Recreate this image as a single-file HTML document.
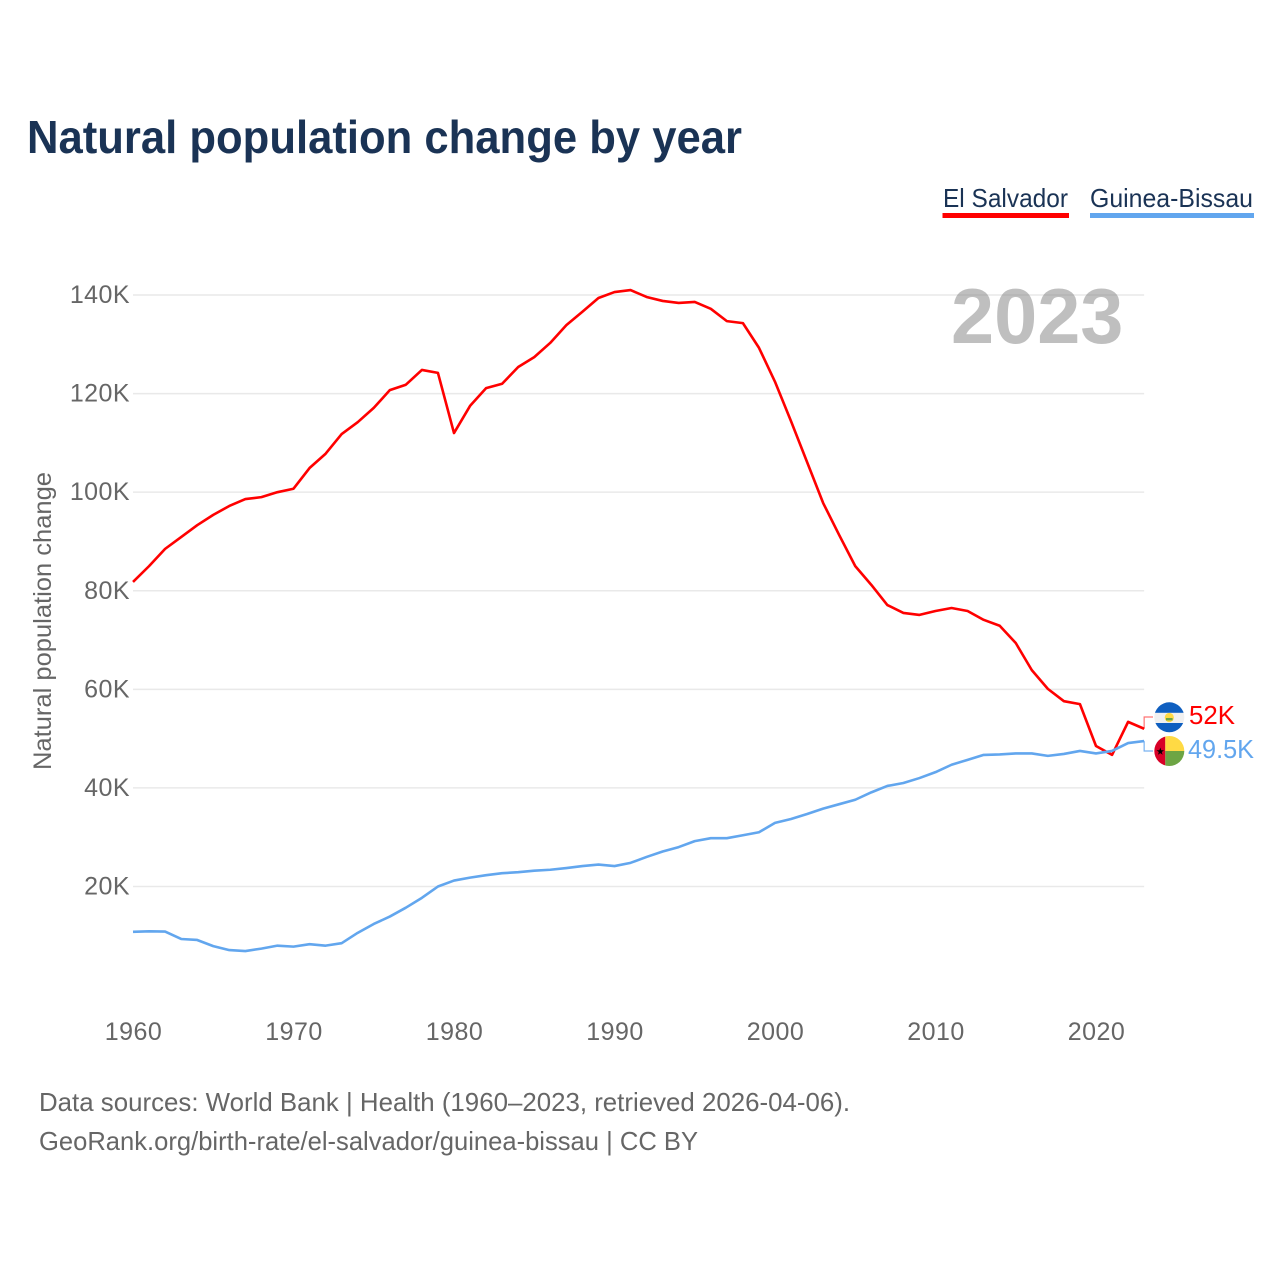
<!DOCTYPE html>
<html lang="en">
<head>
<meta charset="utf-8">
<title>Natural population change by year</title>
<style>
  html, body { margin: 0; padding: 0; background: #fff; }
  svg { display: block; font-family: "Liberation Sans", sans-serif; }
  .tick { font-size: 25px; fill: #666; letter-spacing: .45px; }
  .foot { font-size: 26px; fill: #666; }
  .legend { font-size: 26px; fill: #1a3355; }
</style>
</head>
<body>
<svg id="chart" width="1280" height="1280" viewBox="0 0 1280 1280" xmlns="http://www.w3.org/2000/svg">
  <defs>
    <clipPath id="clip-sv"><circle cx="1169.3" cy="717.3" r="15"/></clipPath>
    <clipPath id="clip-gw"><circle cx="1169.3" cy="751" r="15"/></clipPath>
  </defs>
  <rect width="1280" height="1280" fill="#fff"/>

  <text x="27" y="153" font-size="46" font-weight="700" fill="#1a3355" textLength="715" lengthAdjust="spacingAndGlyphs">Natural population change by year</text>

  <g>
    <text class="legend" x="943" y="207" textLength="125" lengthAdjust="spacingAndGlyphs">El Salvador</text>
    <rect x="942.5" y="213" width="126.5" height="5" fill="#ff0000"/>
  </g>
  <g>
    <text class="legend" x="1090" y="207" textLength="163" lengthAdjust="spacingAndGlyphs">Guinea-Bissau</text>
    <rect x="1090" y="213" width="164" height="5" fill="#62a6ee"/>
  </g>

  <g id="grid"></g>
  <g id="y-ticks"></g>
  <g id="x-ticks"></g>

  <text transform="translate(51,621) rotate(-90)" text-anchor="middle" font-size="25" fill="#666" textLength="298" lengthAdjust="spacingAndGlyphs">Natural population change</text>

  <text x="951" y="343" font-size="77.5" font-weight="700" fill="#808080" fill-opacity=".5">2023</text>

  <g id="series"></g>

  <g clip-path="url(#clip-sv)">
    <rect x="1154" y="702" width="31" height="31" fill="#f0f0f0"/>
    <rect x="1154" y="702" width="31" height="10.8" fill="#0f5fc0"/>
    <rect x="1154" y="723" width="31" height="10.5" fill="#0f5fc0"/>
    <circle cx="1169.3" cy="717.5" r="4.6" fill="#ffda44"/>
    <rect x="1166" y="718" width="6.6" height="2.4" fill="#6da544"/>
  </g>
  <g clip-path="url(#clip-gw)">
    <rect x="1154" y="736" width="11.3" height="31" fill="#d80027"/>
    <rect x="1165.3" y="736" width="20" height="15" fill="#ffda44"/>
    <rect x="1165.3" y="751" width="20" height="16" fill="#6da544"/>
    <polygon points="1160.3,747.5 1161.2,750.2 1164.1,750.3 1161.8,752 1162.6,754.7 1160.3,753.1 1158,754.7 1158.8,752 1156.5,750.3 1159.4,750.2" fill="#000"/>
  </g>

  <text x="1189" y="724" font-size="26" fill="#ff0000" textLength="46" lengthAdjust="spacingAndGlyphs">52K</text>
  <text x="1188" y="758" font-size="26" fill="#62a6ee" textLength="66" lengthAdjust="spacingAndGlyphs">49.5K</text>

  <text class="foot" x="39" y="1111" textLength="811" lengthAdjust="spacingAndGlyphs">Data sources: World Bank | Health (1960–2023, retrieved 2026-04-06).</text>
  <text class="foot" x="39" y="1150" textLength="659" lengthAdjust="spacingAndGlyphs">GeoRank.org/birth-rate/el-salvador/guinea-bissau | CC BY</text>
</svg>

<script>
const firstYear = 1960;
const yTickValues = [20000, 40000, 60000, 80000, 100000, 120000, 140000];
const yTickLabels = ["20K", "40K", "60K", "80K", "100K", "120K", "140K"];
const xTickYears = [1960, 1970, 1980, 1990, 2000, 2010, 2020];
const xTickLabels = ["1960", "1970", "1980", "1990", "2000", "2010", "2020"];
const elSalvadorK = [
  81.8, 85.0, 88.5, 90.9, 93.3, 95.4, 97.2, 98.6, 99.0, 100.0,
  100.7, 104.9, 107.8, 111.8, 114.2, 117.1, 120.7, 121.8, 124.8, 124.2,
  112.0, 117.5, 121.1, 122.0, 125.4, 127.4, 130.3, 133.9, 136.6, 139.4,
  140.6, 141.0, 139.6, 138.8, 138.4, 138.6, 137.2, 134.7, 134.3, 129.3,
  122.4, 114.4, 106.1, 97.8, 91.3, 85.0, 81.2, 77.1, 75.5, 75.1,
  75.9, 76.5, 75.9, 74.1, 72.9, 69.4, 63.9, 60.1, 57.6, 57.0,
  48.5, 46.7, 53.4, 52.0
];
const guineaBissauK = [
  10.8, 10.9, 10.85, 9.35, 9.15, 7.9, 7.1, 6.9, 7.4, 8.0,
  7.8, 8.3, 8.0, 8.5, 10.6, 12.4, 13.9, 15.7, 17.7, 20.0,
  21.2, 21.8, 22.3, 22.7, 22.9, 23.2, 23.4, 23.75, 24.15, 24.45,
  24.15, 24.8, 26.0, 27.1, 28.0, 29.2, 29.8, 29.8, 30.4, 31.0,
  32.9, 33.7, 34.7, 35.8, 36.7, 37.6, 39.1, 40.4, 41.0, 42.0,
  43.2, 44.7, 45.7, 46.7, 46.8, 47.0, 47.0, 46.5, 46.9, 47.5,
  47.0, 47.5, 49.1, 49.5
];

const NS = "http://www.w3.org/2000/svg";
const plotLeft = 133, yearWidth = 16.05;
const y20K = 886.5, pxPer20K = 98.58;
const xScale = year => plotLeft + (year - firstYear) * yearWidth;
const yScale = value => y20K - (value - 20000) * pxPer20K / 20000;
const plotRight = xScale(firstYear + elSalvadorK.length - 1);

const grid = document.getElementById("grid");
const yTicks = document.getElementById("y-ticks");
const xTicks = document.getElementById("x-ticks");
const series = document.getElementById("series");

yTickValues.forEach((value, i) => {
  const line = document.createElementNS(NS, "line");
  
  
  line.setAttribute("x1", plotLeft);
  line.setAttribute("x2", plotRight);
  line.setAttribute("y1", yScale(value));
  line.setAttribute("y2", yScale(value));
  line.setAttribute("stroke", "#e9e9e9");
  line.setAttribute("stroke-width", "1.5");
  grid.appendChild(line);

  const label = document.createElementNS(NS, "text");
  
  
  label.setAttribute("class", "tick");
  label.setAttribute("x", 130);
  label.setAttribute("y", yScale(value) + 8);
  label.setAttribute("text-anchor", "end");
  label.textContent = yTickLabels[i];
  yTicks.appendChild(label);
});

xTickYears.forEach((year, i) => {
  const label = document.createElementNS(NS, "text");
  
  
  label.setAttribute("class", "tick");
  label.setAttribute("x", xScale(year) + 0.5);
  label.setAttribute("y", 1040);
  label.setAttribute("text-anchor", "middle");
  label.textContent = xTickLabels[i];
  xTicks.appendChild(label);
});

function linePath(values) {
  return values.map((v, i) =>
    (i ? "L" : "M") + xScale(firstYear + i).toFixed(2) + " " + yScale(v * 1000).toFixed(2)
  ).join("");
}

function leaderPath(values, targetY) {
  const endY = yScale(values[values.length - 1] * 1000);
  return "M" + plotRight + " " + endY.toFixed(2) + "V" + targetY + "H1153";
}

const redLine = document.createElementNS(NS, "path");


redLine.setAttribute("d", linePath(elSalvadorK));
redLine.setAttribute("fill", "none");
redLine.setAttribute("stroke", "#ff0000");
redLine.setAttribute("stroke-width", "2.6");
redLine.setAttribute("stroke-linejoin", "round");
series.appendChild(redLine);

const blueLine = document.createElementNS(NS, "path");


blueLine.setAttribute("d", linePath(guineaBissauK));
blueLine.setAttribute("fill", "none");
blueLine.setAttribute("stroke", "#62a6ee");
blueLine.setAttribute("stroke-width", "2.6");
blueLine.setAttribute("stroke-linejoin", "round");
series.appendChild(blueLine);

const redLeader = document.createElementNS(NS, "path");


redLeader.setAttribute("d", leaderPath(elSalvadorK, 717));
redLeader.setAttribute("fill", "none");
redLeader.setAttribute("stroke", "#ff0000");
redLeader.setAttribute("stroke-opacity", ".55");
redLeader.setAttribute("stroke-width", "1.2");
series.appendChild(redLeader);

const blueLeader = document.createElementNS(NS, "path");


blueLeader.setAttribute("d", leaderPath(guineaBissauK, 751));
blueLeader.setAttribute("fill", "none");
blueLeader.setAttribute("stroke", "#62a6ee");
blueLeader.setAttribute("stroke-opacity", ".85");
blueLeader.setAttribute("stroke-width", "1.2");
series.appendChild(blueLeader);
</script>
</body>
</html>
